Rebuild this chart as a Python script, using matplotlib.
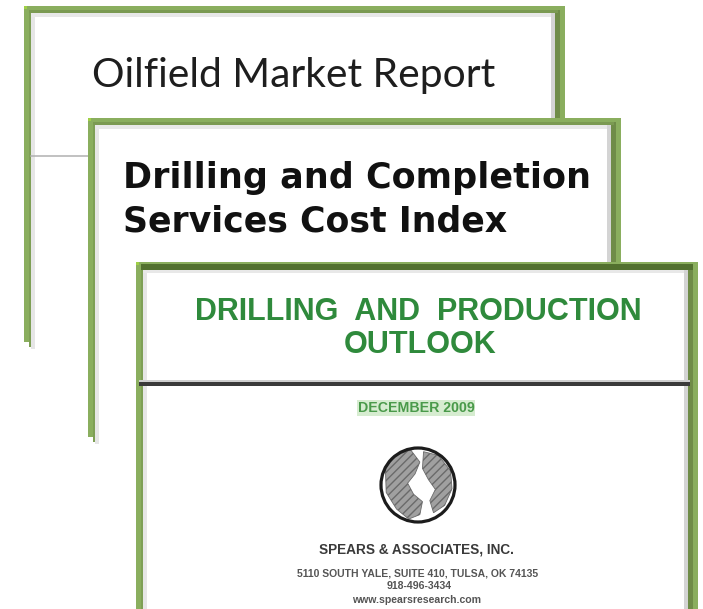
import matplotlib
matplotlib.use("Agg")
import matplotlib.pyplot as plt
from matplotlib.patches import Rectangle, Circle, Polygon

# ---- content (text) ----
card1_title = "Oilfield Market Report"
card2_lines = ["Drilling and Completion", "Services Cost Index"]
card3_title = ["DRILLING  AND  PRODUCTION", "OUTLOOK"]
card3_date = "DECEMBER 2009"
company = "SPEARS & ASSOCIATES, INC."
address_lines = ["5110 SOUTH YALE, SUITE 410, TULSA, OK 74135",
                 "918-496-3434",
                 "www.spearsresearch.com"]

W, H = 703, 609
fig = plt.figure(figsize=(W / 100, H / 100), dpi=100)
ax = fig.add_axes([0, 0, 1, 1])
ax.set_xlim(0, W)
ax.set_ylim(H, 0)
ax.axis("off")
fig.canvas.draw()
renderer = fig.canvas.get_renderer()

GREEN = "#8aae5e"
GREEN_D = "#6f8c48"


def rect(x, y, w, h, c, z):
    ax.add_patch(Rectangle((x, y), w, h, facecolor=c, edgecolor="none", zorder=z))


def card(x0, y0, x1, y1, z, dark_top=False):
    rect(x0, y0, x1 - x0, y1 - y0, "white", z)
    rect(x0 + 7, y0 + 7, 4, y1 - y0, "#e6e6e6", z + 0.1)
    rect(x0 + 7, y0 + 7, x1 - x0 - 17, 4, "#e8e8e8", z + 0.1)
    rect(x1 - 14, y0 + 7, 4, y1 - y0, "#d4d4d4", z + 0.1)
    rect(x0, y0, 7, y1 - y0, GREEN, z + 0.2)
    rect(x0 + 5, y0 + 5, 2, y1 - y0, "#7e9f55", z + 0.25)
    rect(x0, y0, x1 - x0, 7, GREEN, z + 0.2)
    rect(x1 - 10, y0, 10, y1 - y0, GREEN, z + 0.2)
    rect(x1 - 10, y0 + 4, 5, y1 - y0, GREEN_D, z + 0.3)
    if dark_top:
        rect(x0 + 5, y0 + 2, x1 - x0 - 10, 6, "#52702f", z + 0.3)
    else:
        rect(x0 + 5, y0 + 4, x1 - x0 - 12, 3, "#7b9a52", z + 0.3)
    rect(x0, y0, 3, 3, "#9fd045", z + 0.4)


def fit_text(s, x, y, width, ha="left", z=5, **kw):
    t = ax.text(x, y, s, ha=ha, va="baseline", fontsize=20, zorder=z, **kw)
    for _ in range(3):
        w = t.get_window_extent(renderer).width
        t.set_fontsize(t.get_fontsize() * width / w)
    return t


# ---- card 1 ----
card(24, 6, 565, 342, 1)
ax.plot([31, 88], [156, 156], color="#b0b0b0", lw=1.1, zorder=1.5)
fit_text(card1_title, 92, 87, 403, z=1.6, family="Lato", color="#1e1e1e")

# ---- card 2 ----
card(88, 118, 621, 437, 10)
fit_text(card2_lines[0], 123, 188, 467, z=10.6, family="DejaVu Sans",
         fontweight="bold", color="#111111")
fit_text(card2_lines[1], 123, 231, 384, z=10.6, family="DejaVu Sans",
         fontweight="bold", color="#111111")

# ---- card 3 ----
card(136, 262, 698, 640, 20, dark_top=True)
rect(139, 380, 551, 2, "#cfcfcf", 20.5)
rect(139, 382, 551, 3.5, "#3a3a3a", 20.6)
t3 = fit_text(card3_title[0], 418, 320, 447, ha="center", z=20.7,
              family="Liberation Sans", fontweight="bold", color="#2f8a3c")
ax.text(420, 353, card3_title[1], ha="center", va="baseline", zorder=20.7,
        family="Liberation Sans", fontweight="bold", color="#2f8a3c",
        fontsize=t3.get_fontsize())

fit_text(card3_date, 416, 412, 117, ha="center", z=20.7,
         family="Liberation Sans", fontweight="bold", color="#4a9a4a",
         bbox=dict(facecolor="#d6ecd0", edgecolor="none", pad=1.0))

# globe logo
cx, cy, r = 418, 485, 37
ax.add_patch(Circle((cx, cy), r, facecolor="white", edgecolor="none", zorder=20.7))
left_land = [(-0.88, -0.45), (-0.6, -0.8), (-0.2, -0.95), (0.05, -0.62),
             (-0.08, -0.3), (-0.28, -0.05), (-0.12, 0.25), (0.12, 0.45),
             (0.05, 0.8), (-0.25, 0.92), (-0.58, 0.65), (-0.86, 0.2)]
right_land = [(0.15, -0.9), (0.55, -0.8), (0.88, -0.38), (0.92, 0.1),
              (0.72, 0.55), (0.42, 0.75), (0.32, 0.42), (0.47, 0.12),
              (0.28, -0.15), (0.12, -0.45)]
for land in (left_land, right_land):
    ax.add_patch(Polygon([(cx + u * r, cy + v * r) for u, v in land],
                         closed=True, facecolor="#a0a0a0", edgecolor="#6a6a6a",
                         lw=0.6, hatch="////", zorder=20.8))
ax.add_patch(Circle((cx, cy), r, facecolor="none", edgecolor="#1c1c1c",
                    lw=2.3, zorder=20.9))

fit_text(company, 416, 554, 195, ha="center", z=20.7,
         family="Liberation Sans", fontweight="bold", color="#3a3a3a")
fit_text(address_lines[0], 418, 576, 240, ha="center", z=20.7,
         family="Liberation Sans", fontweight="bold", color="#555555")
fit_text(address_lines[1], 419, 589, 66, ha="center", z=20.7,
         family="Liberation Sans", fontweight="bold", color="#555555")
fit_text(address_lines[2], 417, 603, 129, ha="center", z=20.7,
         family="Liberation Sans", fontweight="bold", color="#555555")

fig.savefig("out.png", dpi=100, facecolor="white")
